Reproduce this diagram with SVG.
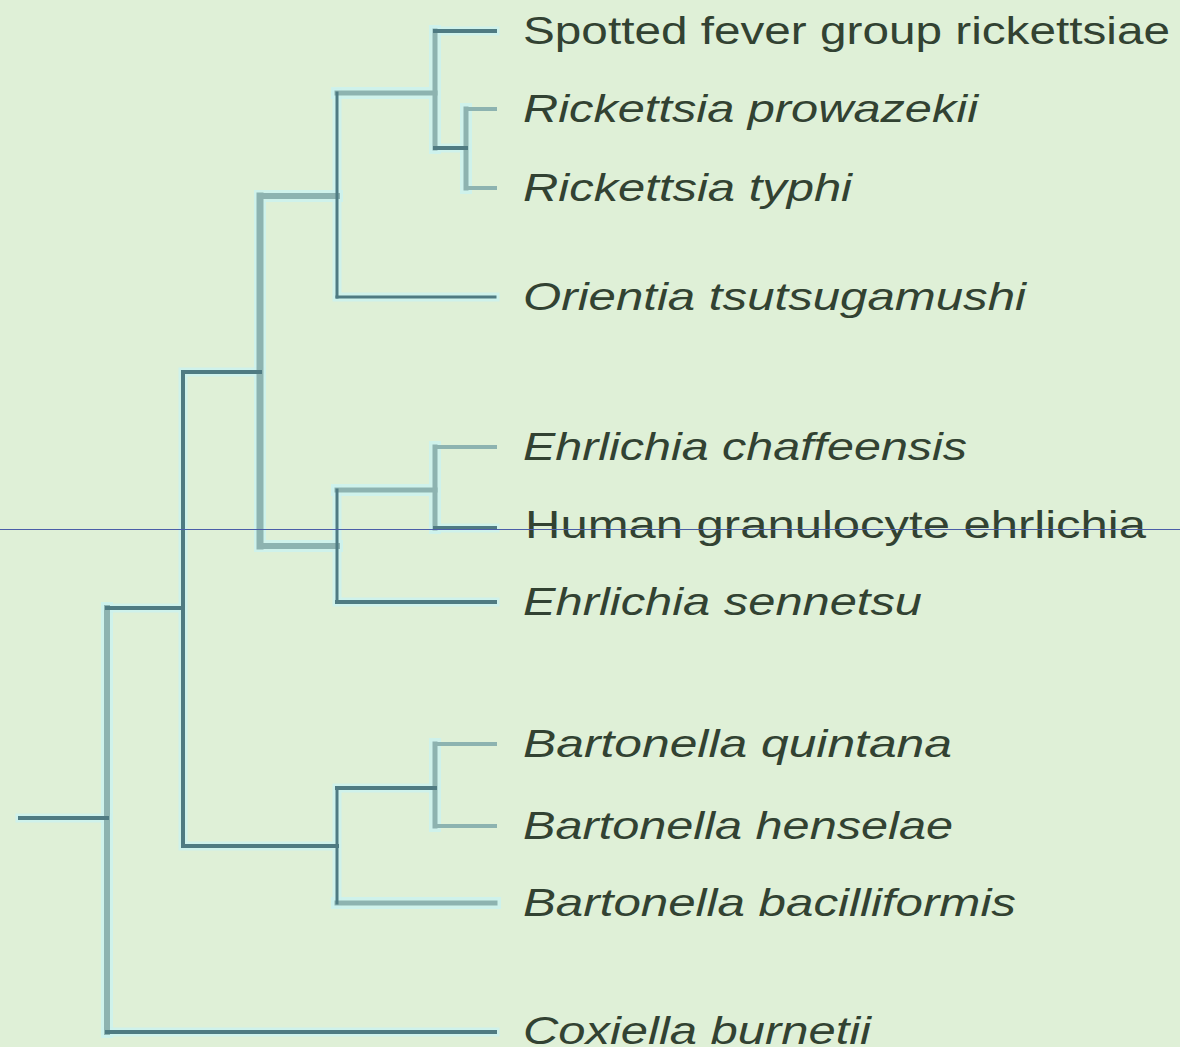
<svg xmlns="http://www.w3.org/2000/svg" width="1180" height="1047" viewBox="0 0 1180 1047">
<style>
.bg{fill:#dff0d7}
.halo{stroke:#cdf2ee;fill:none;stroke-linecap:square;opacity:0.85}
.hl{stroke-width:12}
.hd{stroke-width:9}
.lt{stroke:#8db3b0;fill:none;stroke-linecap:square}
.dk{stroke:#4f7b82;fill:none;stroke-linecap:square}
.lab{font-family:"Liberation Sans",Arial,sans-serif;font-size:38px;fill:#324232}
.it{font-style:italic}
.rule{stroke:#4b5ea8;stroke-width:1}
</style>
<rect class="bg" x="0" y="0" width="1180" height="1047"/>
<g id="connectors">
  <g id="halos">
    <path class="halo hl" d="M107 608 V1032 M260 196 V546 M260 196 H337 M260 546 H337 M337 93 H435 M435 31 V148 M466 109 V188 M337 490 H435 M435 447 V528 M337 903 H495 M435 744 V826"/>
    <path class="halo hd" d="M20 818 H107 M107 608 H183 M107 1032 H495 M183 372 V846 M183 372 H260 M183 846 H337 M337 93 V297 M337 297 H495 M435 31 H495 M435 148 H466 M337 490 V602 M337 602 H495 M435 528 H495 M337 788 V903 M337 788 H435"/>
  </g>
  <g id="branches-light">
    <line class="lt" x1="107" y1="608" x2="107" y2="1032" stroke-width="6"/>
    <line class="lt" x1="260" y1="196" x2="260" y2="546" stroke-width="7"/>
    <line class="lt" x1="260" y1="196" x2="337" y2="196" stroke-width="6"/>
    <line class="lt" x1="260" y1="546" x2="337" y2="546" stroke-width="6"/>
    <line class="lt" x1="337" y1="93" x2="435" y2="93" stroke-width="5"/>
    <line class="lt" x1="435" y1="31" x2="435" y2="148" stroke-width="5"/>
    <line class="lt" x1="466" y1="109" x2="466" y2="188" stroke-width="5"/>
    <line class="lt" x1="466" y1="109" x2="495" y2="109" stroke-width="4"/>
    <line class="lt" x1="466" y1="188" x2="495" y2="188" stroke-width="4"/>
    <line class="lt" x1="337" y1="490" x2="435" y2="490" stroke-width="5"/>
    <line class="lt" x1="435" y1="447" x2="435" y2="528" stroke-width="5"/>
    <line class="lt" x1="435" y1="447" x2="495" y2="447" stroke-width="4"/>
    <line class="lt" x1="337" y1="903" x2="495" y2="903" stroke-width="5"/>
    <line class="lt" x1="435" y1="744" x2="435" y2="826" stroke-width="5"/>
    <line class="lt" x1="435" y1="744" x2="495" y2="744" stroke-width="4"/>
    <line class="lt" x1="435" y1="826" x2="495" y2="826" stroke-width="4"/>
  </g>
  <g id="branches-dark">
    <line class="dk" x1="20" y1="818" x2="107" y2="818" stroke-width="4"/>
    <line class="dk" x1="107" y1="608" x2="183" y2="608" stroke-width="4"/>
    <line class="dk" x1="107" y1="1032" x2="495" y2="1032" stroke-width="4"/>
    <line class="dk" x1="183" y1="372" x2="183" y2="846" stroke-width="4"/>
    <line class="dk" x1="183" y1="372" x2="260" y2="372" stroke-width="4"/>
    <line class="dk" x1="183" y1="846" x2="337" y2="846" stroke-width="4"/>
    <line class="dk" x1="337" y1="93" x2="337" y2="297" stroke-width="3"/>
    <line class="dk" x1="337" y1="297" x2="495" y2="297" stroke-width="3"/>
    <line class="dk" x1="435" y1="31" x2="495" y2="31" stroke-width="4"/>
    <line class="dk" x1="435" y1="148" x2="466" y2="148" stroke-width="4"/>
    <line class="dk" x1="337" y1="490" x2="337" y2="602" stroke-width="3"/>
    <line class="dk" x1="337" y1="602" x2="495" y2="602" stroke-width="4"/>
    <line class="dk" x1="435" y1="528" x2="495" y2="528" stroke-width="4"/>
    <line class="dk" x1="337" y1="788" x2="337" y2="903" stroke-width="3"/>
    <line class="dk" x1="337" y1="788" x2="435" y2="788" stroke-width="4"/>
  </g>
</g>
<g id="leaf-spotted-fever"><text class="lab" x="523" y="44" textLength="647" lengthAdjust="spacingAndGlyphs">Spotted fever group rickettsiae</text></g>
<g id="leaf-r-prowazekii"><text class="lab it" x="523" y="122" textLength="455" lengthAdjust="spacingAndGlyphs">Rickettsia prowazekii</text></g>
<g id="leaf-r-typhi"><text class="lab it" x="523" y="201" textLength="329" lengthAdjust="spacingAndGlyphs">Rickettsia typhi</text></g>
<g id="leaf-orientia"><text class="lab it" x="523" y="310" textLength="503" lengthAdjust="spacingAndGlyphs">Orientia tsutsugamushi</text></g>
<g id="leaf-e-chaffeensis"><text class="lab it" x="523" y="460" textLength="444" lengthAdjust="spacingAndGlyphs">Ehrlichia chaffeensis</text></g>
<g id="leaf-hge"><text class="lab" x="525" y="538" textLength="621" lengthAdjust="spacingAndGlyphs">Human granulocyte ehrlichia</text></g>
<g id="leaf-e-sennetsu"><text class="lab it" x="523" y="615" textLength="399" lengthAdjust="spacingAndGlyphs">Ehrlichia sennetsu</text></g>
<g id="leaf-b-quintana"><text class="lab it" x="523" y="757" textLength="429" lengthAdjust="spacingAndGlyphs">Bartonella quintana</text></g>
<g id="leaf-b-henselae"><text class="lab it" x="523" y="839" textLength="430" lengthAdjust="spacingAndGlyphs">Bartonella henselae</text></g>
<g id="leaf-b-bacilliformis"><text class="lab it" x="523" y="916" textLength="493" lengthAdjust="spacingAndGlyphs">Bartonella bacilliformis</text></g>
<g id="leaf-coxiella"><text class="lab it" x="523" y="1044" textLength="348" lengthAdjust="spacingAndGlyphs">Coxiella burnetii</text></g>
<line class="rule" x1="0" y1="529.5" x2="1180" y2="529.5"/>
</svg>
